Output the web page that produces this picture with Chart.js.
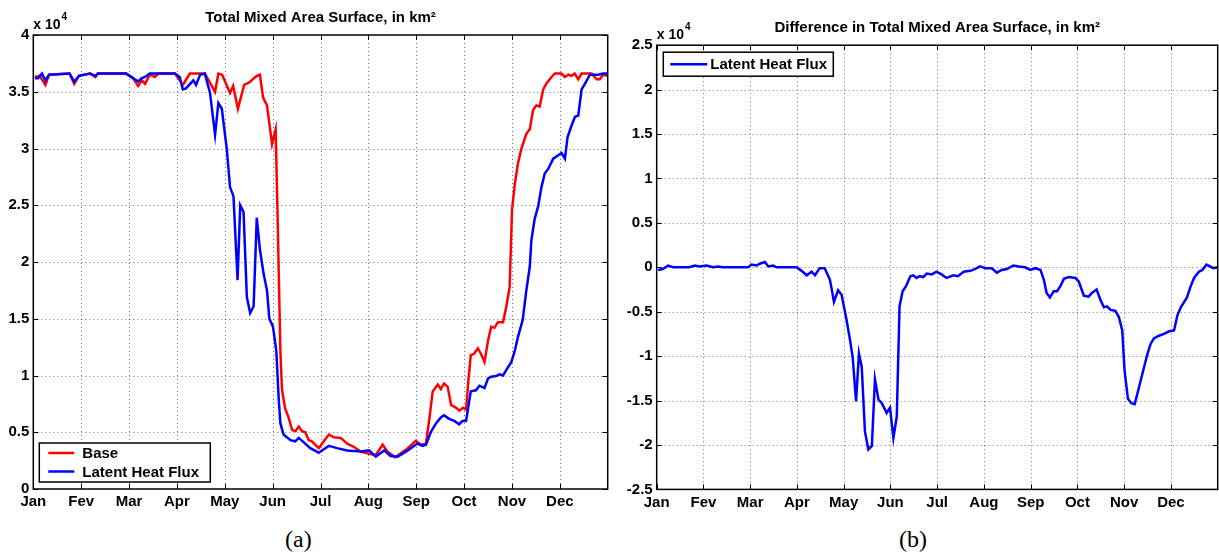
<!DOCTYPE html>
<html>
<head>
<meta charset="utf-8">
<script src="https://cdn.jsdelivr.net/npm/chart.js@4.4.1/dist/chart.umd.min.js"></script>
<style>
  html, body { margin: 0; padding: 0; background: #fff; }
  body { width: 1219px; height: 557px; position: relative; overflow: hidden; }
  #wrapA { position: absolute; left: 0; top: 0; }
  #wrapB { position: absolute; left: 612px; top: 0; }
  .cap { position: absolute; top: 526px; font: 24px "Liberation Serif", "DejaVu Serif", serif; color: #000; }
</style>
</head>
<body>
<div id="wrapA"><canvas id="chartA" width="615" height="515"></canvas></div>
<div id="wrapB"><canvas id="chartB" width="607" height="515"></canvas></div>
<div class="cap" style="left:285px">(a)</div>
<div class="cap" style="left:899px">(b)</div>
<script>
// month labels (as in the figure)
const monthLabels = ['Jan', 'Fev', 'Mar', 'Apr', 'May', 'Jun', 'Jul', 'Aug', 'Sep', 'Oct', 'Nov', 'Dec'];
const yTicksA = [0, 0.5, 1, 1.5, 2, 2.5, 3, 3.5, 4];
const yTicksB = [-2.5, -2, -1.5, -1, -0.5, 0, 0.5, 1, 1.5, 2, 2.5];

// values are in units of 10^4 km2, x = day of year
const baseDays = [1, 4, 7.7, 10, 23, 26, 29, 36, 39.5, 41, 59, 63.4, 66.6, 69, 71, 74, 77.3, 79.4, 90, 93, 95, 99.5, 109,
  115.5, 117.6, 120, 125, 127, 130, 134, 137, 142, 144, 146, 148.5, 151.7, 154, 155, 157, 158, 160, 162, 164.5, 166.6,
  168.7, 170.8, 172.9, 175, 177, 181.4, 184.6, 187.8, 191, 195.3, 199.5, 203.8, 208, 213.4, 217.6, 222, 225, 230, 238,
  243, 246.4, 249.5, 251.6, 253.8, 257, 259, 261, 263.3, 265.5, 268.7, 270.8, 273, 275, 276.5, 278, 280, 282.5, 284.5,
  286.7, 289, 291, 293, 295.3, 298.5, 300.6, 302.7, 304.2, 306, 308, 310, 313.3, 315.5, 317.6, 319.7, 321.8, 324, 326,
  329.3, 331.4, 335.6, 337.8, 340, 342, 344, 346.3, 348.4, 354.8, 358, 360, 362, 365];
const baseArea = [3.63, 3.64, 3.56, 3.65, 3.66, 3.57, 3.64, 3.66, 3.63, 3.66, 3.66, 3.62, 3.55, 3.60, 3.57, 3.65, 3.63, 3.66, 3.66, 3.60, 3.56, 3.66, 3.66,
  3.50, 3.66, 3.65, 3.49, 3.55, 3.35, 3.56, 3.58, 3.64, 3.65, 3.45, 3.38, 3.04, 3.17, 2.55, 1.22, 0.88, 0.71, 0.64, 0.52, 0.51,
  0.55, 0.51, 0.50, 0.43, 0.42, 0.36, 0.42, 0.48, 0.455, 0.45, 0.40, 0.37, 0.33, 0.31, 0.30, 0.39, 0.33, 0.28, 0.36,
  0.425, 0.39, 0.40, 0.61, 0.86, 0.92, 0.88, 0.93, 0.90, 0.74, 0.715, 0.69, 0.715, 0.70, 0.96, 1.18, 1.19, 1.24, 1.19,
  1.12, 1.31, 1.43, 1.42, 1.47, 1.47, 1.61, 1.78, 2.46, 2.69, 2.87, 2.99, 3.13, 3.17, 3.34, 3.38, 3.37, 3.52, 3.57,
  3.63, 3.66, 3.66, 3.63, 3.65, 3.64, 3.66, 3.61, 3.66, 3.66, 3.61, 3.61, 3.65, 3.64];

const latentDays = [1, 3, 5.5, 7.7, 10, 23, 26, 29, 36, 39.5, 41, 59, 63.4, 66.6, 69, 71, 74, 90, 93, 95, 97, 101.7, 103.4,
  106, 109, 112.3, 115.5, 117.6, 119.8, 123, 125, 127.2, 129.8, 131.5, 133.6, 135.7, 137.8, 140, 142, 144, 146.3, 148.5,
  150, 152.3, 154.4, 156, 157, 159, 163.4, 166.5, 168.7, 172.8, 176, 181.4, 184.6, 187.8, 193, 199.5, 208, 213.4, 217.6,
  223, 227, 231.5, 238, 244, 247.4, 249.5, 252.7, 256, 259, 261, 264, 267.5, 270.6, 272.7, 275, 278, 281.3, 283.5, 286.7,
  289, 291, 294, 296.3, 298.5, 300.6, 303.8, 306, 308, 311, 313.3, 315.5, 316.5, 318.6, 320.8, 322.9, 325, 327.2, 330.4,
  333.6, 335.7, 337.8, 339.5, 342, 344.2, 346.3, 348.4, 350.5, 353.7, 359, 362, 365];
const latentArea = [3.62, 3.62, 3.66, 3.60, 3.65, 3.66, 3.59, 3.64, 3.66, 3.64, 3.66, 3.66, 3.62, 3.59, 3.62, 3.63, 3.66, 3.66, 3.63, 3.52, 3.53, 3.60, 3.56,
  3.65, 3.66, 3.49, 3.12, 3.40, 3.35, 2.99, 2.66, 2.58, 1.84, 2.50, 2.44, 1.69, 1.55, 1.61, 2.39, 2.11, 1.90, 1.75,
  1.50, 1.43, 1.22, 0.78, 0.58, 0.48, 0.43, 0.42, 0.45, 0.40, 0.36, 0.32, 0.35, 0.38, 0.36, 0.34, 0.33, 0.34, 0.285,
  0.34, 0.29, 0.285, 0.34, 0.40, 0.38, 0.39, 0.505, 0.58, 0.63, 0.65, 0.62, 0.60, 0.57, 0.60, 0.60, 0.86, 0.87, 0.91, 0.89,
  0.975, 0.99, 0.995, 1.01, 1.00, 1.05, 1.12, 1.22, 1.34, 1.49, 1.75, 1.96, 2.19, 2.38, 2.49, 2.66, 2.78, 2.82, 2.91,
  2.94, 2.96, 2.91, 3.10, 3.20, 3.28, 3.29, 3.52, 3.57, 3.65, 3.65, 3.66, 3.66];

const diffDays = [1, 4, 7.4, 10.7, 21, 24.8, 28, 32.4, 36.7, 40, 43, 59.5, 61.7, 65, 67, 70.4, 72.6, 75.8, 78, 91, 94.3,
  97.6, 100.8, 103, 106, 109.3, 112.7, 113.8, 115.3, 118, 120.3, 123.5, 125.8, 127.5, 129.7, 131.6, 133.4, 135.5, 137.7,
  140, 142, 144.3, 146.5, 149.6, 151.8, 154, 156.2, 158, 160, 162.3, 165, 167, 169, 171, 173.4, 175.7, 179, 182, 185.3,
  188.6, 193, 196, 199.7, 204, 207, 210.4, 213.8, 218, 221.3, 224.5, 227.8, 232, 235.5, 239.7, 243, 246.5, 249.7, 251.9,
  253.7, 255.8, 258.3, 260.5, 262.7, 264.9, 268, 272.4, 274.6, 277.9, 281, 283, 286.2, 288.8, 291, 293, 295.3, 298.4,
  300.7, 302.9, 304.4, 306.6, 308.8, 311, 313.8, 317, 319.2, 321.4, 323.5, 326.8, 330, 333.4, 336.6, 338.8, 341, 345,
  347.5, 349.6, 352.8, 355, 357.7, 360, 362.2, 365];
const diffArea = [-0.03, -0.02, 0.02, 0, 0, 0.02, 0.01, 0.02, 0, 0.01, 0, 0, 0.03, 0.02, 0.04, 0.06, 0.01, 0.02, 0, 0, -0.04,
  -0.09, -0.05, -0.09, -0.01, -0.01, -0.14, -0.24, -0.39, -0.26, -0.31, -0.59, -0.82, -1.01, -1.51, -0.97, -1.12, -1.85, -2.05,
  -2.01, -1.26, -1.49, -1.53, -1.64, -1.58, -1.92, -1.68, -0.44, -0.27, -0.21, -0.10, -0.09, -0.12, -0.10, -0.11, -0.07, -0.08, -0.05, -0.08,
  -0.12, -0.09, -0.10, -0.05, -0.04, -0.02, 0.01, -0.01, -0.01, -0.06, -0.03, -0.02, 0.02, 0.01, 0, -0.03, -0.01, -0.03, -0.14,
  -0.29, -0.34, -0.27, -0.27, -0.21, -0.13, -0.11, -0.12, -0.16, -0.32, -0.33, -0.29, -0.25, -0.37, -0.45, -0.44, -0.48, -0.49,
  -0.56, -0.71, -1.16, -1.48, -1.53, -1.54, -1.35, -1.13, -0.98, -0.86, -0.80, -0.77, -0.75, -0.72, -0.71, -0.54, -0.45, -0.34,
  -0.21, -0.12, -0.05, -0.03, 0.03, 0.01, -0.01, 0];

const FONT = '"Liberation Sans", Arial, Helvetica, sans-serif';
const toXY = (xs, ys) => xs.map((d, i) => ({ x: d, y: ys[i] }));

// MATLAB-like axes: dotted grid, box, inward ticks, exponent, title, legend
const matlabAxes = {
  id: 'matlabAxes',
  beforeDatasetsDraw(chart) {
    const { ctx, chartArea: a, scales: { x, y } } = chart;
    ctx.save();
    ctx.strokeStyle = 'rgba(0,0,0,0.55)';
    ctx.lineWidth = 1;
    ctx.setLineDash([1, 3]);
    ctx.beginPath();
    x.ticks.forEach(t => {
      const px = Math.round(x.getPixelForValue(t.value)) + 0.5;
      if (px <= a.left + 1 || px >= a.right - 1) return;
      ctx.moveTo(px, a.top); ctx.lineTo(px, a.bottom);
    });
    y.ticks.forEach(t => {
      const py = Math.round(y.getPixelForValue(t.value)) + 0.5;
      if (py <= a.top + 1 || py >= a.bottom - 1) return;
      ctx.moveTo(a.left, py); ctx.lineTo(a.right, py);
    });
    ctx.stroke();
    ctx.restore();
  },
  afterDatasetsDraw(chart, args, opts) {
    const { ctx, chartArea: a, scales: { x, y } } = chart;
    ctx.save();
    // box
    ctx.strokeStyle = '#000';
    ctx.lineWidth = 1.5;
    ctx.strokeRect(a.left, a.top, a.right - a.left, a.bottom - a.top);
    // inward ticks
    ctx.lineWidth = 1;
    ctx.beginPath();
    const tl = 5;
    x.ticks.forEach(t => {
      const px = Math.round(x.getPixelForValue(t.value)) + 0.5;
      ctx.moveTo(px, a.bottom); ctx.lineTo(px, a.bottom - tl);
      ctx.moveTo(px, a.top); ctx.lineTo(px, a.top + tl);
    });
    y.ticks.forEach(t => {
      const py = Math.round(y.getPixelForValue(t.value)) + 0.5;
      ctx.moveTo(a.left, py); ctx.lineTo(a.left + tl, py);
      ctx.moveTo(a.right, py); ctx.lineTo(a.right - tl, py);
    });
    ctx.stroke();

    // exponent label
    ctx.fillStyle = '#000';
    ctx.textAlign = 'left';
    ctx.textBaseline = 'alphabetic';
    ctx.font = 'bold 14px ' + FONT;
    ctx.fillText('x 10', a.left, a.top - 6);
    const w = ctx.measureText('x 10').width;
    ctx.font = 'bold 10px ' + FONT;
    ctx.fillText('4', a.left + w + 1, a.top - 15);

    // title
    ctx.font = 'bold 15px ' + FONT;
    ctx.textAlign = 'center';
    ctx.textBaseline = 'middle';
    ctx.fillText(opts.title, (a.left + a.right) / 2, a.top - 17);

    // legend
    const lg = opts.legend;
    const bx = a.left + lg.dx;
    const by = lg.fromBottom ? a.bottom - lg.dy - lg.h : a.top + lg.dy;
    ctx.fillStyle = '#fff';
    ctx.fillRect(bx, by, lg.w, lg.h);
    ctx.lineWidth = 1.5;
    ctx.strokeStyle = '#000';
    ctx.strokeRect(bx, by, lg.w, lg.h);
    ctx.font = 'bold 15px ' + FONT;
    ctx.textAlign = 'left';
    ctx.textBaseline = 'middle';
    lg.items.forEach((it, i) => {
      const ly = by + lg.first + i * lg.step;
      ctx.strokeStyle = it.color;
      ctx.lineWidth = 2.5;
      ctx.beginPath();
      ctx.moveTo(bx + lg.lineX, ly);
      ctx.lineTo(bx + lg.lineX + lg.lineLen, ly);
      ctx.stroke();
      ctx.fillStyle = '#000';
      ctx.fillText(it.label, bx + lg.textX, ly + 1);
    });
    ctx.restore();
  }
};

function xScale(height) {
  return {
    type: 'linear', min: 0, max: 365,
    afterBuildTicks: s => { s.ticks = monthLabels.map((_, i) => ({ value: i * 365 / 12 })); },
    afterFit: s => { s.height = height; },
    grid: { display: false, drawTicks: false },
    border: { display: false },
    ticks: {
      autoSkip: false, maxRotation: 0, padding: 4, color: '#000',
      font: { family: FONT, size: 15, weight: 'bold' },
      callback: (v, i) => monthLabels[i]
    }
  };
}

function yScale(tickVals, width) {
  return {
    min: tickVals[0], max: tickVals[tickVals.length - 1],
    afterBuildTicks: s => { s.ticks = tickVals.map(v => ({ value: v })); },
    afterFit: s => { s.width = width; },
    grid: { display: false, drawTicks: false },
    border: { display: false },
    ticks: {
      padding: 4, color: '#000',
      font: { family: FONT, size: 15, weight: 'bold' },
      callback: v => String(v)
    }
  };
}

const lineDs = (label, data, color) => ({
  label, data, borderColor: color, borderWidth: 2.5,
  pointRadius: 0, tension: 0, fill: false
});

new Chart(document.getElementById('chartA'), {
  type: 'line',
  data: {
    datasets: [
      lineDs('Latent Heat Flux', toXY(latentDays, latentArea), '#0000ff'),
      lineDs('Base', toXY(baseDays, baseArea), '#ff0000')
    ]
  },
  options: {
    responsive: false, animation: false, events: [], devicePixelRatio: 1,
    layout: { padding: { left: 0, top: 35, right: 7.3, bottom: 0 } },
    scales: { x: xScale(26), y: yScale(yTicksA, 33.3) },
    plugins: {
      legend: { display: false }, tooltip: { enabled: false },
      matlabAxes: {
        title: 'Total Mixed Area Surface, in km\u00B2',
        legend: {
          dx: 6, dy: 7, fromBottom: true, w: 171, h: 39,
          lineX: 9, lineLen: 26, textX: 43, first: 10, step: 18.5,
          items: [{ label: 'Base', color: '#ff0000' }, { label: 'Latent Heat Flux', color: '#0000ff' }]
        }
      }
    }
  },
  plugins: [matlabAxes]
});

new Chart(document.getElementById('chartB'), {
  type: 'line',
  data: {
    datasets: [lineDs('Latent Heat Flux', toXY(diffDays, diffArea), '#0000ff')]
  },
  options: {
    responsive: false, animation: false, events: [], devicePixelRatio: 1,
    layout: { padding: { left: 0, top: 45.2, right: 1.3, bottom: 0 } },
    scales: { x: xScale(25.6), y: yScale(yTicksB, 44.7) },
    plugins: {
      legend: { display: false }, tooltip: { enabled: false },
      matlabAxes: {
        title: 'Difference in Total Mixed Area Surface, in km\u00B2',
        legend: {
          dx: 6.6, dy: 7, fromBottom: false, w: 170, h: 24,
          lineX: 7, lineLen: 37, textX: 47, first: 12, step: 0,
          items: [{ label: 'Latent Heat Flux', color: '#0000ff' }]
        }
      }
    }
  },
  plugins: [matlabAxes]
});
</script>
</body>
</html>
